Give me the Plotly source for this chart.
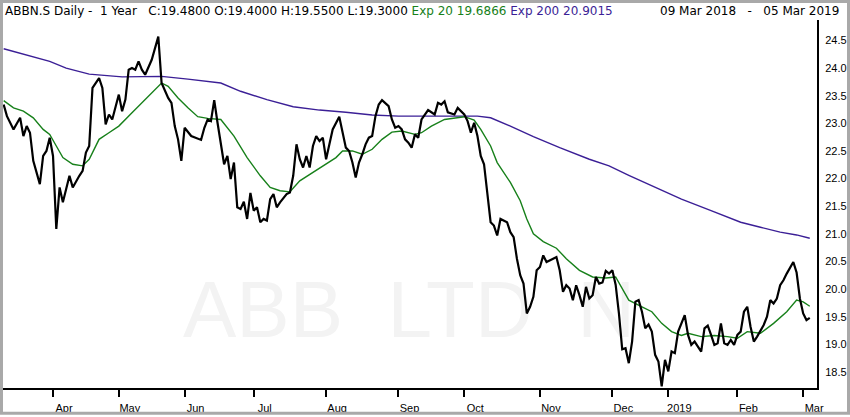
import plotly.graph_objects as go

# ── Data: ABBN.S daily, sessions counted from 09 Mar 2018 ───────────────────
day = [0, 1, 3, 5, 6, 7, 8, 9, 11, 12, 13, 14, 15, 16, 17, 18, 20, 21, 23, 24,
       25, 26, 27, 29, 30, 31, 32, 33, 35, 36, 37, 38, 39, 40, 41, 42, 43, 45,
       47, 48, 50, 51, 52, 53, 54, 55, 57, 60, 61, 62, 63, 64, 65, 66, 67, 68,
       69, 70, 71, 72, 73, 74, 75, 76, 77, 78, 79, 80, 81, 82, 83, 84, 86, 87,
       88, 89, 90, 91, 92, 93, 94, 95, 96, 97, 98, 99, 100, 102, 103, 104, 105,
       106, 107, 108, 109, 110, 111, 112, 113, 114, 115, 116, 117, 118, 119,
       120, 121, 122, 123, 124, 125, 126, 127, 129, 131, 132, 133, 134, 135,
       137, 138, 140, 141, 142, 143, 144, 145, 146, 147, 148, 149, 150, 151,
       153, 154, 155, 156, 157, 158, 159, 160, 161, 162, 163, 164, 165, 167,
       168, 169, 170, 171, 172, 173, 174, 175, 176, 177, 178, 179, 180, 181,
       182, 183, 184, 185, 186, 187, 188, 189, 190, 191, 192, 193, 194, 195,
       196, 197, 198, 199, 200, 201, 202, 203, 204, 205, 206, 207, 208, 209,
       210, 212, 213, 214, 215, 216, 217, 218, 219, 220, 221, 222, 223, 224,
       225, 226, 227, 228, 229, 231, 232, 233, 234, 235, 236, 237, 238, 240,
       241, 242, 243, 244, 245]
close = [23.34, 23.13, 22.89, 23.10, 22.77, 22.95, 22.83, 22.32, 21.90, 22.41,
         22.50, 22.74, 22.41, 21.09, 21.84, 21.57, 22.05, 21.84, 22.05, 22.14,
         22.47, 22.59, 23.64, 23.82, 23.64, 22.98, 23.16, 23.07, 23.52, 23.22,
         23.43, 23.97, 24.00, 23.97, 24.12, 23.97, 23.88, 24.15, 24.57, 23.73,
         23.46, 23.37, 22.95, 22.71, 22.32, 22.92, 22.77, 22.70, 22.92, 23.07,
         23.04, 23.42, 23.01, 22.59, 22.26, 22.41, 21.99, 22.29, 21.48, 21.45,
         21.58, 21.27, 21.74, 21.42, 21.48, 21.21, 21.27, 21.24, 21.63, 21.72,
         21.48, 21.57, 21.72, 21.75, 22.05, 22.62, 22.35, 22.20, 22.41, 22.20,
         22.59, 22.77, 22.68, 22.74, 22.35, 22.62, 22.89, 23.12, 22.83, 22.56,
         22.50, 22.29, 22.02, 22.29, 22.44, 22.62, 22.74, 22.77, 23.13, 23.34,
         23.42, 23.37, 23.31, 23.07, 22.92, 22.95, 22.89, 22.71, 22.65, 22.56,
         22.80, 22.74, 23.07, 23.24, 23.16, 23.37, 23.34, 23.40, 23.20, 23.16,
         23.28, 23.16, 23.04, 22.83, 23.01, 22.77, 22.41, 22.26, 21.75, 21.21,
         21.15, 20.97, 21.27, 21.21, 21.03, 20.94, 20.55, 20.25, 20.10, 19.56,
         19.68, 19.86, 20.34, 20.40, 20.61, 20.49, 20.55, 20.58, 20.34, 19.95,
         20.07, 20.01, 19.80, 20.07, 19.89, 19.68, 20.04, 19.83, 19.89, 20.22,
         20.10, 20.12, 20.33, 20.28, 20.34, 20.08, 19.56, 18.91, 18.93, 18.66,
         19.05, 19.77, 19.80, 19.59, 19.29, 19.36, 19.23, 18.81, 18.69, 18.24,
         18.72, 18.51, 18.87, 18.84, 19.23, 19.38, 19.53, 19.17, 18.99, 19.05,
         18.87, 19.29, 19.34, 19.17, 18.99, 19.02, 19.38, 19.02, 18.99, 19.08,
         18.99, 19.17, 19.23, 19.59, 19.68, 19.32, 19.05, 19.14, 19.35, 19.50,
         19.80, 19.74, 19.83, 20.07, 20.16, 20.28, 20.49, 20.30, 19.83, 19.56,
         19.44, 19.48]

ema20_day = [0, 3, 6, 9, 12, 14, 16, 18, 21, 24, 26, 29, 32, 35, 39, 43, 47,
             48, 50, 53, 56, 59, 62, 66, 70, 74, 78, 81, 84, 87, 90, 94, 98,
             101, 103, 106, 109, 112, 115, 118, 121, 125, 127, 130, 134, 137,
             140, 143, 145, 148, 150, 154, 157, 159, 161, 164, 168, 171, 175,
             179, 183, 186, 188, 190, 194, 197, 200, 203, 206, 208, 212, 216,
             220, 223, 226, 230, 234, 238, 241, 243, 245]
ema20 = [23.41, 23.28, 23.22, 23.10, 22.89, 22.80, 22.59, 22.38, 22.26, 22.23,
         22.35, 22.71, 22.83, 22.95, 23.19, 23.43, 23.67, 23.73, 23.67, 23.46,
         23.28, 23.12, 23.09, 23.07, 22.77, 22.38, 22.05, 21.84, 21.78, 21.76,
         21.96, 22.11, 22.26, 22.38, 22.50, 22.50, 22.44, 22.53, 22.71, 22.84,
         22.86, 22.80, 22.83, 22.95, 23.07, 23.10, 23.12, 23.06, 22.89, 22.59,
         22.29, 21.93, 21.60, 21.27, 21.00, 20.86, 20.74, 20.55, 20.34, 20.22,
         20.20, 20.22, 20.00, 19.80, 19.68, 19.59, 19.38, 19.23, 19.16, 19.20,
         19.14, 19.16, 19.14, 19.11, 19.23, 19.20, 19.38, 19.59, 19.80, 19.77,
         19.69]

ema200_day = [0, 5, 14, 19, 26, 36, 48, 56, 62, 66, 72, 80, 88, 96, 104, 112,
              120, 134, 144, 148, 154, 161, 169, 178, 184, 190, 206, 215, 224,
              230, 236, 241, 245]
ema200 = [24.35, 24.27, 24.12, 24.00, 23.89, 23.84, 23.85, 23.80, 23.75, 23.73,
          23.58, 23.43, 23.30, 23.24, 23.20, 23.15, 23.13, 23.13, 23.13, 23.10,
          22.95, 22.76, 22.56, 22.35, 22.23, 22.06, 21.63, 21.42, 21.21, 21.12,
          21.03, 20.98, 20.92]

month_day = [15, 35, 55, 76, 98, 120, 140, 163, 185, 202, 223, 243]
month_lbl = ["Apr", "May", "Jun", "Jul", "Aug", "Sep", "Oct", "Nov", "Dec",
             "2019", "Feb", "Mar"]
price_ticks = [18.5, 19.0, 19.5, 20.0, 20.5, 21.0, 21.5, 22.0, 22.5, 23.0,
               23.5, 24.0, 24.5]

# ── Layout constants ─────────────────────────────────────────────────────────
W, H = 850, 417
ML, MR, MT, MB = 3, 33, 20, 27
PW, PH = W - ML - MR, H - MT - MB
FONT = "Liberation Sans"
HEAD_FONT = "DejaVu Sans"
GREEN = "#17801a"
PURPLE = "#3b1f96"


def px_x(x):
    return (x - ML) / PW


def px_y(y):
    return (H - MB - y) / PH


fig = go.Figure()

# watermark, drawn first so the lines sit on top
fig.add_trace(go.Scatter(
    x=[54.5], y=[19.5], mode="text", text=["ABB\u00a0\u00a0LTD\u00a0\u00a0N"],
    textposition="middle right",
    textfont=dict(family=FONT, size=80, color="#f3f3f3"),
    hoverinfo="skip", showlegend=False))

fig.add_trace(go.Scatter(x=ema200_day, y=ema200, mode="lines",
                         line=dict(color=PURPLE, width=1.4),
                         showlegend=False))
fig.add_trace(go.Scatter(x=ema20_day, y=ema20, mode="lines",
                         line=dict(color=GREEN, width=1.4),
                         showlegend=False))
fig.add_trace(go.Scatter(x=day, y=close, mode="lines",
                         line=dict(color="black", width=2.2),
                         showlegend=False))

header = ("ABBN.S Daily -\u00a0 1 Year\u00a0\u00a0 C:19.4800 O:19.4000 "
          "H:19.5500 L:19.3000 "
          f"<span style='color:{GREEN}'>Exp 20 19.6866</span> "
          f"<span style='color:{PURPLE}'>Exp 200 20.9015</span>")
fig.add_annotation(xref="paper", yref="paper", x=px_x(3), y=px_y(11),
                   xanchor="left", yanchor="middle", showarrow=False,
                   text=header,
                   font=dict(family=HEAD_FONT, size=12, color="black"))
fig.add_annotation(xref="paper", yref="paper", x=px_x(841), y=px_y(11),
                   xanchor="right", yanchor="middle", showarrow=False,
                   text="09 Mar 2018\u00a0\u00a0 -\u00a0\u00a0 05 Mar 2019",
                   font=dict(family=HEAD_FONT, size=12, color="black"))

# grey frame round the whole picture
fig.add_shape(type="rect", xref="paper", yref="paper",
              x0=px_x(1.5), x1=px_x(W - 1.5), y0=px_y(H - 1.5), y1=px_y(1.5),
              line=dict(color="#a9a9a9", width=3))

fig.update_xaxes(range=[-0.2, 247.2], showgrid=False, zeroline=False,
                 showline=True, linecolor="black", linewidth=2,
                 tickmode="array", tickvals=month_day, ticktext=month_lbl,
                 ticks="outside", ticklen=7, tickwidth=2, tickcolor="black",
                 ticklabelshift=11, ticklabelstandoff=2,
                 tickfont=dict(family=FONT, size=11, color="black"))
fig.update_yaxes(range=[18.21, 24.87], side="right", showgrid=False,
                 zeroline=False, showline=True, linecolor="black", linewidth=2,
                 tickmode="array", tickvals=price_ticks, tickformat=".1f",
                 ticks="", ticklabelstandoff=4,
                 tickfont=dict(family=FONT, size=11, color="black"))

fig.update_layout(width=W, height=H, autosize=False,
                  margin=dict(l=ML, r=MR, t=MT, b=MB),
                  plot_bgcolor="white", paper_bgcolor="white",
                  hovermode=False)

# the page's default body margin would push the chart off the window
fig.write_html("out.html", config={"displayModeBar": False},
               post_script="document.body.style.margin='0';"
                           "document.body.style.overflow='hidden';")
